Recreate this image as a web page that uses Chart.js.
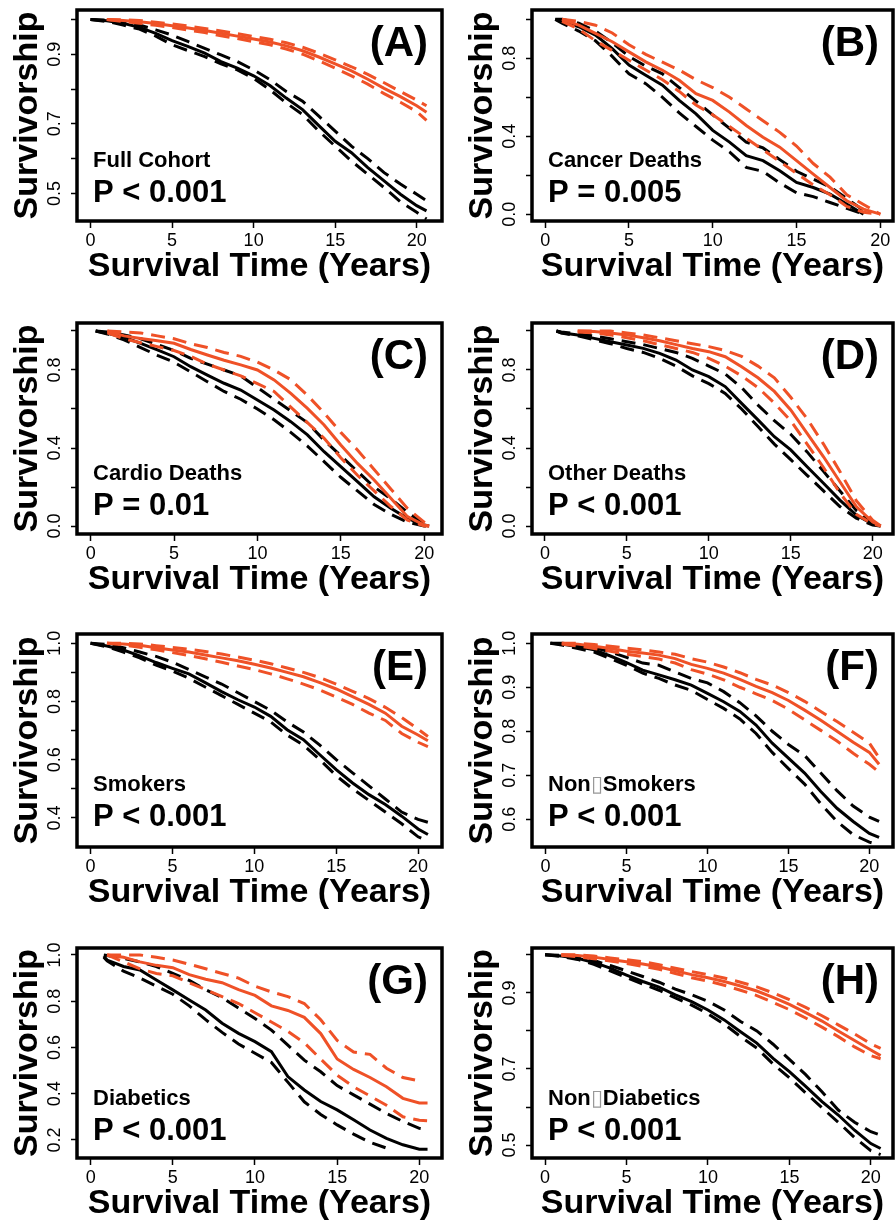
<!DOCTYPE html>
<html>
<head>
<meta charset="utf-8">
<script src="https://cdn.jsdelivr.net/npm/chart.js@4/dist/chart.umd.min.js"></script>
<style>
  body { margin: 0; background: #fff; width: 895px; height: 1221px; position: relative; overflow: hidden; }
  .panel { position: absolute; }
</style>
</head>
<body>
<div id="figure"></div>
<script>
// ---- data ----
const xTicks = [0, 5, 10, 15, 20];

// (A) Full Cohort
const tA = [0,1,2,3,4,5,6,7,8,9,10,11,12,13,14,15,16,17,18,19,20,20.6];
const blkA   = [1.000,0.996,0.989,0.977,0.960,0.939,0.922,0.903,0.879,0.860,0.838,0.810,0.774,0.741,0.695,0.650,0.617,0.574,0.536,0.498,0.465,0.450];
const blkHiA = [1.000,0.998,0.993,0.984,0.970,0.955,0.936,0.917,0.898,0.879,0.855,0.827,0.793,0.765,0.722,0.679,0.636,0.600,0.560,0.527,0.498,0.479];
const blkLoA = [1.000,0.994,0.984,0.972,0.952,0.927,0.910,0.893,0.872,0.855,0.831,0.798,0.760,0.727,0.679,0.636,0.593,0.555,0.517,0.476,0.446,0.427];
const orgA   = [null,1.000,0.997,0.993,0.988,0.982,0.975,0.968,0.960,0.952,0.944,0.935,0.924,0.910,0.892,0.872,0.852,0.828,0.802,0.778,0.752,0.733];
const orgHiA = [null,1.000,0.999,0.997,0.992,0.987,0.981,0.974,0.967,0.959,0.951,0.943,0.933,0.920,0.903,0.884,0.864,0.842,0.818,0.793,0.768,0.752];
const orgLoA = [null,1.000,0.994,0.989,0.983,0.977,0.969,0.962,0.953,0.945,0.936,0.927,0.915,0.900,0.881,0.860,0.838,0.814,0.787,0.762,0.735,0.710];
const yTicksA = [0.5,0.6,0.7,0.8,0.9,1.0];
const yLabelsA = ['0.5','','0.7','','0.9',''];

// (B) Cancer Deaths
const tB = [0.6,1,2,3,4,5,6,7,8,9,10,11,12,13,14,15,16,17,18,19,20];
const blkB   = [1.000,0.991,0.962,0.919,0.850,0.765,0.713,0.662,0.584,0.515,0.430,0.370,0.300,0.275,0.223,0.163,0.137,0.103,0.052,0.000,null];
const blkHiB = [1.000,1.000,0.980,0.940,0.880,0.810,0.760,0.720,0.650,0.580,0.510,0.440,0.370,0.340,0.280,0.220,0.180,0.140,0.080,0.020,null];
const blkLoB = [1.000,0.980,0.940,0.890,0.810,0.720,0.670,0.600,0.520,0.450,0.380,0.320,0.240,0.220,0.160,0.110,0.090,0.060,0.030,0.000,null];
const orgB   = [null,1.000,0.970,0.928,0.885,0.833,0.782,0.739,0.687,0.619,0.584,0.524,0.455,0.395,0.344,0.275,0.206,0.137,0.069,0.026,0.000];
const orgHiB = [null,1.000,0.990,0.970,0.930,0.870,0.820,0.780,0.740,0.690,0.650,0.600,0.540,0.480,0.420,0.350,0.260,0.190,0.100,0.050,0.000];
const orgLoB = [null,0.990,0.950,0.890,0.840,0.790,0.740,0.690,0.630,0.560,0.510,0.450,0.390,0.330,0.270,0.210,0.150,0.100,0.040,0.010,0.000];
const yTicksB = [0,0.2,0.4,0.6,0.8,1.0];
const yLabelsB = ['0.0','','0.4','','0.8',''];

// (C) Cardio Deaths
const tC = [0.3,1,2,3,4,5,6,7,8,9,10,11,12,13,14,15,16,17,18,19,20,20.3];
const blkC   = [1.000,0.988,0.968,0.937,0.903,0.868,0.817,0.774,0.732,0.697,0.646,0.595,0.535,0.467,0.381,0.304,0.227,0.150,0.091,0.039,0.005,0.000];
const blkHiC = [1.000,0.995,0.980,0.960,0.930,0.900,0.860,0.830,0.800,0.770,0.710,0.650,0.590,0.530,0.440,0.360,0.280,0.200,0.140,0.070,0.010,0.000];
const blkLoC = [1.000,0.985,0.955,0.915,0.875,0.840,0.790,0.740,0.690,0.650,0.600,0.545,0.480,0.410,0.330,0.250,0.180,0.110,0.060,0.020,0.000,0.000];
const orgC   = [null,1.000,0.975,0.962,0.950,0.937,0.905,0.877,0.850,0.826,0.800,0.749,0.680,0.603,0.518,0.415,0.321,0.236,0.142,0.048,0.005,0.000];
const orgHiC = [null,1.000,0.995,0.990,0.975,0.960,0.935,0.915,0.890,0.870,0.840,0.800,0.750,0.670,0.580,0.480,0.390,0.290,0.190,0.090,0.020,0.000];
const orgLoC = [null,0.990,0.960,0.940,0.920,0.900,0.870,0.830,0.800,0.770,0.730,0.690,0.610,0.530,0.450,0.350,0.260,0.180,0.100,0.030,0.000,0.000];
const yTicksC = [0,0.2,0.4,0.6,0.8,1.0];
const yLabelsC = ['0.0','','0.4','','0.8',''];

// (D) Other Deaths
const tD = [0.7,1,2,3,4,5,6,7,8,9,10,11,12,13,14,15,16,17,18,19,20,20.5];
const blkD   = [1.000,0.991,0.980,0.962,0.945,0.928,0.911,0.885,0.851,0.800,0.766,0.715,0.629,0.544,0.458,0.390,0.304,0.219,0.133,0.056,0.010,0.000];
const blkHiD = [1.000,0.995,0.985,0.975,0.960,0.945,0.930,0.910,0.890,0.860,0.820,0.780,0.710,0.620,0.540,0.470,0.380,0.280,0.180,0.080,0.020,0.000];
const blkLoD = [1.000,0.990,0.975,0.955,0.935,0.910,0.890,0.860,0.820,0.770,0.730,0.680,0.600,0.510,0.420,0.340,0.260,0.180,0.100,0.040,0.005,0.000];
const orgD   = [null,null,1.000,0.998,0.990,0.980,0.965,0.950,0.930,0.910,0.894,0.868,0.817,0.760,0.690,0.595,0.475,0.355,0.227,0.100,0.020,0.000];
const orgHiD = [null,null,1.000,1.000,1.000,0.990,0.980,0.965,0.950,0.935,0.920,0.900,0.870,0.820,0.760,0.660,0.550,0.420,0.280,0.130,0.030,0.000];
const orgLoD = [null,null,0.995,0.990,0.980,0.965,0.950,0.930,0.910,0.890,0.860,0.820,0.770,0.710,0.630,0.540,0.420,0.300,0.170,0.060,0.010,0.000];
const yTicksD = [0,0.2,0.4,0.6,0.8,1.0];
const yLabelsD = ['0.0','','0.4','','0.8',''];

// (E) Smokers
const tE = [0,1,2,3,4,5,6,7,8,9,10,11,12,13,14,15,16,17,18,19,20,20.6];
const blkE   = [1.000,0.991,0.977,0.957,0.934,0.914,0.895,0.865,0.834,0.806,0.781,0.749,0.703,0.669,0.617,0.566,0.520,0.480,0.446,0.406,0.362,0.343];
const blkHiE = [1.000,0.996,0.985,0.970,0.955,0.935,0.910,0.885,0.860,0.830,0.800,0.770,0.730,0.695,0.650,0.600,0.555,0.510,0.465,0.420,0.395,0.385];
const blkLoE = [1.000,0.988,0.970,0.950,0.925,0.905,0.880,0.850,0.820,0.790,0.760,0.730,0.685,0.650,0.600,0.545,0.500,0.460,0.420,0.380,0.335,0.320];
const orgE   = [null,1.000,0.998,0.993,0.985,0.977,0.970,0.960,0.950,0.940,0.928,0.915,0.900,0.885,0.865,0.843,0.817,0.790,0.760,0.715,0.685,0.665];
const orgHiE = [null,1.000,1.000,0.998,0.992,0.986,0.980,0.972,0.963,0.953,0.942,0.930,0.915,0.900,0.882,0.860,0.835,0.810,0.780,0.745,0.705,0.680];
const orgLoE = [null,1.000,0.995,0.986,0.978,0.968,0.958,0.947,0.935,0.922,0.910,0.895,0.878,0.860,0.840,0.815,0.790,0.760,0.735,0.690,0.660,0.645];
const yTicksE = [0.4,0.5,0.6,0.7,0.8,0.9,1.0];
const yLabelsE = ['0.4','','0.6','','0.8','','1.0'];

// (F) Non-Smokers
const tF = [0.3,1,2,3,4,5,6,7,8,9,10,11,12,13,14,15,16,17,18,19,20,20.6];
const blkF   = [1.000,0.998,0.992,0.985,0.971,0.956,0.939,0.928,0.917,0.905,0.886,0.867,0.845,0.814,0.773,0.739,0.705,0.663,0.625,0.595,0.568,0.559];
const blkHiF = [1.000,1.000,0.995,0.990,0.980,0.968,0.955,0.950,0.935,0.920,0.910,0.890,0.865,0.835,0.800,0.770,0.745,0.705,0.665,0.630,0.605,0.595];
const blkLoF = [1.000,0.996,0.988,0.980,0.965,0.950,0.932,0.920,0.905,0.893,0.872,0.852,0.828,0.795,0.752,0.715,0.680,0.635,0.595,0.565,0.548,0.542];
const orgF   = [null,1.000,0.998,0.993,0.988,0.982,0.978,0.973,0.965,0.952,0.943,0.932,0.918,0.902,0.888,0.870,0.848,0.825,0.800,0.775,0.752,0.725];
const orgHiF = [null,1.000,1.000,0.997,0.993,0.989,0.985,0.980,0.975,0.965,0.957,0.946,0.933,0.918,0.905,0.888,0.868,0.845,0.822,0.798,0.773,0.740];
const orgLoF = [null,0.998,0.994,0.988,0.982,0.975,0.970,0.964,0.955,0.940,0.930,0.917,0.900,0.885,0.870,0.850,0.826,0.802,0.778,0.750,0.725,0.707];
const yTicksF = [0.6,0.7,0.8,0.9,1.0];
const yLabelsF = ['0.6','0.7','0.8','0.9','1.0'];

// (G) Diabetics
const tG = [0.8,1,2,3,4,5,6,7,8,9,10,11,12,13,14,15,16,17,18,19,20,20.5];
const blkG   = [0.995,0.978,0.950,0.935,0.892,0.849,0.805,0.762,0.705,0.661,0.625,0.582,0.474,0.416,0.366,0.330,0.287,0.243,0.207,0.179,0.160,0.160];
const blkHiG = [1.000,0.998,0.985,0.970,0.950,0.920,0.890,0.850,0.815,0.770,0.725,0.675,0.610,0.545,0.495,0.435,0.395,0.355,0.315,0.280,0.250,0.245];
const blkLoG = [0.990,0.975,0.930,0.900,0.865,0.830,0.780,0.720,0.665,0.615,0.575,0.535,0.450,0.365,0.310,0.265,0.225,0.190,0.165,null,null,null];
const orgG   = [null,1.000,0.990,0.970,0.955,0.945,0.915,0.895,0.880,0.850,0.825,0.780,0.760,0.730,0.660,0.550,0.505,0.470,0.430,0.380,0.360,0.360];
const orgHiG = [null,1.000,1.000,1.000,0.990,0.978,0.960,0.940,0.920,0.900,0.865,0.840,0.820,0.790,0.720,0.630,0.580,0.570,0.510,0.470,0.455,null];
const orgLoG = [null,1.000,0.970,0.940,0.920,0.910,0.880,0.850,0.820,0.790,0.750,0.710,0.670,0.620,0.550,0.480,0.430,0.390,0.350,0.300,0.285,0.283];
const yTicksG = [0.2,0.4,0.6,0.8,1.0];
const yLabelsG = ['0.2','0.4','0.6','0.8','1.0'];

// (H) Non-Diabetics
const tH = [0,1,2,3,4,5,6,7,8,9,10,11,12,13,14,15,16,17,18,19,20,20.6];
const blkH   = [1.000,0.997,0.991,0.980,0.965,0.947,0.930,0.915,0.895,0.877,0.855,0.829,0.798,0.768,0.728,0.693,0.654,0.614,0.579,0.539,0.504,0.491];
const blkHiH = [1.000,0.999,0.994,0.985,0.972,0.958,0.943,0.928,0.910,0.895,0.878,0.855,0.825,0.800,0.765,0.725,0.685,0.640,0.592,0.560,0.535,0.526];
const blkLoH = [1.000,0.996,0.988,0.975,0.958,0.940,0.923,0.907,0.887,0.868,0.845,0.818,0.785,0.755,0.713,0.677,0.637,0.598,0.560,0.520,0.485,0.475];
const orgH   = [null,1.000,0.998,0.994,0.988,0.982,0.976,0.968,0.958,0.948,0.940,0.930,0.918,0.905,0.888,0.870,0.848,0.826,0.800,0.775,0.750,0.735];
const orgHiH = [null,1.000,1.000,0.997,0.992,0.987,0.982,0.974,0.965,0.956,0.948,0.939,0.928,0.916,0.900,0.882,0.862,0.840,0.816,0.792,0.766,0.754];
const orgLoH = [null,0.999,0.995,0.990,0.984,0.977,0.970,0.962,0.951,0.940,0.931,0.920,0.907,0.893,0.875,0.856,0.834,0.810,0.785,0.758,0.735,0.727];
const yTicksH = [0.5,0.6,0.7,0.8,0.9,1.0];
const yLabelsH = ['0.5','','0.7','','0.9',''];

// ---- layout of the 8 panels ----
const FONT = '"Liberation Sans", Arial, Helvetica, sans-serif';
const ORANGE = '#EF5127';
const TOFU = '\u25AF';
const Y_AXIS_W = 77, X_AXIS_H = 63, PAD = 6;

const panels = [
  { tag: '(A)', name: 'Full Cohort',   p: 'P < 0.001', box: [77, 10, 442, 221],   x: [-0.83, 21.55], y: [0.421, 1.027], t: tA, blk: [blkA, blkHiA, blkLoA], org: [orgA, orgHiA, orgLoA], yt: yTicksA, yl: yLabelsA },
  { tag: '(B)', name: 'Cancer Deaths', p: 'P = 0.005', box: [532, 10, 893, 221],  x: [-0.79, 20.76], y: [-0.035, 1.048], t: tB, blk: [blkB, blkHiB, blkLoB], org: [orgB, orgHiB, orgLoB], yt: yTicksB, yl: yLabelsB },
  { tag: '(C)', name: 'Cardio Deaths', p: 'P = 0.01',  box: [77, 323, 442, 534],  x: [-0.82, 21.07], y: [-0.041, 1.041], t: tC, blk: [blkC, blkHiC, blkLoC], org: [orgC, orgHiC, orgLoC], yt: yTicksC, yl: yLabelsC },
  { tag: '(D)', name: 'Other Deaths',  p: 'P < 0.001', box: [532, 323, 893, 534], x: [-0.79, 21.24], y: [-0.041, 1.041], t: tD, blk: [blkD, blkHiD, blkLoD], org: [orgD, orgHiD, orgLoD], yt: yTicksD, yl: yLabelsD },
  { tag: '(E)', name: 'Smokers',       p: 'P < 0.001', box: [77, 634, 442, 847],  x: [-0.83, 21.46], y: [0.300, 1.032], t: tE, blk: [blkE, blkHiE, blkLoE], org: [orgE, orgHiE, orgLoE], yt: yTicksE, yl: yLabelsE },
  { tag: '(F)', name: 'Non' + TOFU + 'Smokers', p: 'P < 0.001', box: [532, 634, 893, 847], x: [-0.84, 21.46], y: [0.537, 1.021], t: tF, blk: [blkF, blkHiF, blkLoF], org: [orgF, orgHiF, orgLoF], yt: yTicksF, yl: yLabelsF },
  { tag: '(G)', name: 'Diabetics',     p: 'P < 0.001', box: [77, 948, 442, 1158], x: [-0.83, 21.38], y: [0.122, 1.030], t: tG, blk: [blkG, blkHiG, blkLoG], org: [orgG, orgHiG, orgLoG], yt: yTicksG, yl: yLabelsG },
  { tag: '(H)', name: 'Non' + TOFU + 'Diabetics', p: 'P < 0.001', box: [532, 948, 893, 1158], x: [-0.80, 21.36], y: [0.466, 1.018], t: tH, blk: [blkH, blkHiH, blkLoH], org: [orgH, orgHiH, orgLoH], yt: yTicksH, yl: yLabelsH }
];

// box, rotated y labels and panel texts
const framePlugin = {
  id: 'frame',
  afterDraw(chart, args, o) {
    const { ctx, chartArea: a } = chart;
    const y = chart.scales.y;
    ctx.save();
    ctx.lineWidth = 3.5;
    ctx.strokeStyle = '#000';
    ctx.strokeRect(a.left, a.top, a.right - a.left, a.bottom - a.top);

    ctx.fillStyle = '#000';
    ctx.textAlign = 'center';
    ctx.textBaseline = 'middle';
    ctx.font = '18px ' + FONT;
    o.yt.forEach((v, i) => {
      if (!o.yl[i]) return;
      ctx.save();
      ctx.translate(a.left - 22, y.getPixelForValue(v));
      ctx.rotate(-Math.PI / 2);
      ctx.fillText(o.yl[i], 0, 0);
      ctx.restore();
    });

    ctx.textAlign = 'right';
    ctx.font = 'bold 42px ' + FONT;
    ctx.fillText(o.tag, a.right - 14, a.top + 34);

    // subgroup name; the missing-glyph box is drawn in grey like the original
    ctx.textAlign = 'left';
    ctx.font = 'bold 22px ' + FONT;
    let nx = a.left + 16;
    o.name.split(/(\u25AF)/).forEach(part => {
      if (!part) return;
      if (part === TOFU) {
        ctx.fillStyle = '#999';
        ctx.font = '22px ' + FONT;
      }
      ctx.fillText(part, nx, a.top + 151);
      nx += ctx.measureText(part).width;
      ctx.fillStyle = '#000';
      ctx.font = 'bold 22px ' + FONT;
    });
    ctx.font = 'bold 31px ' + FONT;
    ctx.fillText(o.p, a.left + 16, a.top + 183);
    ctx.restore();
  }
};

function toPoints(t, vals) {
  return t.map((x, i) => ({ x: x, y: vals[i] })).filter(pt => pt.y !== null);
}

function lineSet(t, vals, color, dashed) {
  return {
    data: toPoints(t, vals),
    borderColor: color,
    borderWidth: 3,
    borderDash: dashed ? [14, 8] : [],
    pointRadius: 0,
    tension: 0,
    fill: false
  };
}

const fig = document.getElementById('figure');
panels.forEach(pn => {
  const [bl, bt, br, bb] = pn.box;
  const left = bl - Y_AXIS_W, top = bt - PAD;
  const w = Math.round(br - left + PAD), h = Math.round(bb - top + X_AXIS_H + PAD);

  const div = document.createElement('div');
  div.className = 'panel';
  div.style.left = left + 'px';
  div.style.top = top + 'px';
  const canvas = document.createElement('canvas');
  canvas.width = w; canvas.height = h;
  canvas.style.width = w + 'px'; canvas.style.height = h + 'px';
  div.appendChild(canvas);
  fig.appendChild(div);

  new Chart(canvas, {
    type: 'line',
    data: {
      datasets: [
        lineSet(pn.t, pn.org[0], ORANGE, false),
        lineSet(pn.t, pn.org[1], ORANGE, true),
        lineSet(pn.t, pn.org[2], ORANGE, true),
        lineSet(pn.t, pn.blk[0], '#000', false),
        lineSet(pn.t, pn.blk[1], '#000', true),
        lineSet(pn.t, pn.blk[2], '#000', true)
      ]
    },
    plugins: [framePlugin],
    options: {
      responsive: false,
      animation: false,
      devicePixelRatio: 1,
      layout: { padding: { left: 0, top: PAD, right: PAD, bottom: PAD } },
      plugins: {
        legend: { display: false },
        tooltip: { enabled: false },
        frame: { tag: pn.tag, name: pn.name, p: pn.p, yt: pn.yt, yl: pn.yl }
      },
      scales: {
        x: {
          type: 'linear',
          min: pn.x[0], max: pn.x[1],
          afterBuildTicks: s => { s.ticks = xTicks.map(v => ({ value: v })); },
          afterFit: s => { s.height = X_AXIS_H; },
          border: { display: false },
          grid: { drawOnChartArea: false, drawTicks: true, tickLength: 7, tickColor: '#000', tickWidth: 1.5 },
          ticks: { color: '#000', font: { size: 18, family: FONT }, padding: 2, maxRotation: 0, autoSkip: false },
          title: { display: true, text: 'Survival Time (Years)', color: '#000', font: { size: 34, weight: 'bold', family: FONT, lineHeight: 1 }, padding: { top: 0, bottom: 0 } }
        },
        y: {
          type: 'linear',
          min: pn.y[0], max: pn.y[1],
          afterBuildTicks: s => { s.ticks = pn.yt.map(v => ({ value: v })); },
          afterFit: s => { s.width = Y_AXIS_W; },
          border: { display: false },
          grid: { drawOnChartArea: false, drawTicks: true, tickLength: 6, tickColor: '#000', tickWidth: 1.5 },
          ticks: { display: false },
          title: { display: true, text: 'Survivorship', color: '#000', font: { size: 34, weight: 'bold', family: FONT, lineHeight: 1 }, padding: { top: 11, bottom: 0 } }
        }
      }
    }
  });
});
</script>
</body>
</html>
